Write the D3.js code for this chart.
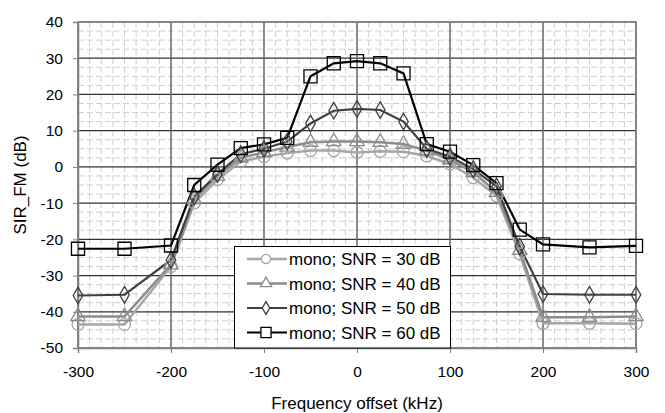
<!DOCTYPE html>
<html><head><meta charset="utf-8">
<script src="https://cdn.jsdelivr.net/npm/d3@7"></script>
<style>body{margin:0;background:#fff}svg{display:block}text{font-family:"Liberation Sans",Arial,sans-serif}</style>
</head><body>
<script>
const freq = [-300,-250,-200,-175,-150,-125,-100,-75,-50,-25,0,25,50,75,100,125,150,175,200,250,300];
const snr30 = [-43.5,-43.5,-27.5,-10,-3.5,1.5,2.8,3.8,4.5,4.5,4,4.3,4.2,3,0.8,-3,-8,-24,-43.2,-43.2,-43.3];
const snr40 = [-41.3,-41.3,-27,-9,-2.5,2.5,4,5.5,6.8,7,7,6.8,6.3,4.5,2,-1.5,-7,-23,-41.5,-41.5,-41.3];
const snr50 = [-35.5,-35.3,-25.7,-8.2,-2,3.5,5,7,12,15.5,16,15.7,12.5,5,2.8,-0.6,-5.4,-22,-35.1,-35.3,-35.3];
const snr60 = [-22.6,-22.6,-21.7,-5,0.6,5.2,6.2,8,25,28.6,29.2,28.6,25.8,6.3,4.2,0.5,-4.5,-17.3,-21.4,-22.2,-21.8];
const seriesNames = ["mono; SNR = 30 dB","mono; SNR = 40 dB","mono; SNR = 50 dB","mono; SNR = 60 dB"];
const xTicks = [-300,-200,-100,0,100,200,300];
const yTicks = [-50,-40,-30,-20,-10,0,10,20,30,40];

const W=665,H=413;
const m={l:78,r:29,t:22,b:65};
const svg=d3.select("body").append("svg").attr("width",W).attr("height",H);
const x=d3.scaleLinear().domain([-300,300]).range([m.l,W-m.r]);
const y=d3.scaleLinear().domain([-50,40]).range([H-m.b,m.t]);
const pw=W-m.r-m.l;
const fmt=d=>String(d);

// minor grid
const g=svg.append("g");
g.selectAll("line.mh").data(d3.range(-50,40.01,2.5).filter(v=>v%10!==0)).join("line")
 .attr("x1",m.l).attr("x2",W-m.r).attr("y1",d=>y(d)).attr("y2",d=>y(d))
 .attr("stroke","#cfcfcf").attr("stroke-width",1).attr("stroke-dasharray","6,3");
g.selectAll("line.mv").data(d3.range(-300,300.01,12.5).filter(v=>v%100!==0)).join("line")
 .attr("y1",m.t).attr("y2",H-m.b).attr("x1",d=>x(d)).attr("x2",d=>x(d))
 .attr("stroke","#cfcfcf").attr("stroke-width",1).attr("stroke-dasharray","6,3");
// major grid
g.selectAll("line.Mh").data(yTicks).join("line")
 .attr("x1",m.l).attr("x2",W-m.r).attr("y1",d=>y(d)).attr("y2",d=>y(d))
 .attr("stroke","#333").attr("stroke-width",1.2);
g.selectAll("line.Mv").data(xTicks).join("line")
 .attr("y1",m.t).attr("y2",H-m.b).attr("x1",d=>x(d)).attr("x2",d=>x(d))
 .attr("stroke","#666").attr("stroke-width",1.5);
svg.append("rect").attr("x",m.l).attr("y",m.t).attr("width",pw).attr("height",H-m.b-m.t)
 .attr("fill","none").attr("stroke","#808080").attr("stroke-width",1.5);

// axes
const xa=svg.append("g").attr("transform",`translate(0,${H-m.b})`)
 .call(d3.axisBottom(x).tickValues(xTicks).tickFormat(fmt).tickSize(5).tickPadding(13));
const ya=svg.append("g").attr("transform",`translate(${m.l},0)`)
 .call(d3.axisLeft(y).tickValues(yTicks).tickFormat(fmt).tickSize(5).tickPadding(10));
[xa,ya].forEach(a=>{a.select(".domain").attr("stroke","#808080").attr("stroke-width",1.5);
 a.selectAll(".tick line").attr("stroke","#808080");
 a.selectAll("text").attr("font-size",15.5).attr("fill","#000").attr("font-family","Liberation Sans, Arial, sans-serif");});

svg.append("text").attr("x",x(0)).attr("y",409).attr("text-anchor","middle").attr("font-size",17).text("Frequency offset (kHz)");
svg.append("text").attr("transform",`translate(26,${(m.t+H-m.b)/2}) rotate(-90)`).attr("text-anchor","middle").attr("font-size",17).text("SIR_FM (dB)");

const series=[snr30,snr40,snr50,snr60];
const colors=["#a6a6a6","#8c8c8c","#404040","#000000"];
const widths=[2.5,2.5,2.2,2.2];
const sym=[d3.symbolCircle,d3.symbolTriangle,d3.symbolDiamond,d3.symbolSquare];
const sizes=[110,90,80,170];
const line=d3.line().x((d,i)=>x(freq[i])).y(d=>y(d));
series.forEach((s,k)=>{
  svg.append("path").datum(s).attr("d",line).attr("fill","none").attr("stroke",colors[k]).attr("stroke-width",widths[k]);
});
series.forEach((s,k)=>{
  svg.append("g").selectAll("path").data(s).join("path")
   .attr("d",d3.symbol().type(sym[k]).size(sizes[k]))
   .attr("transform",(d,i)=>`translate(${x(freq[i])},${y(d)})`)
   .attr("fill","none").attr("stroke",colors[k]).attr("stroke-width",1.3);
});

// legend
const lg=svg.append("g");
lg.append("rect").attr("x",234.5).attr("y",246.5).attr("width",216).attr("height",101.5)
 .attr("fill","#fff").attr("stroke","#000").attr("stroke-width",1);
const ly=[259,283.5,308,332.5];
seriesNames.forEach((n,k)=>{
  lg.append("line").attr("x1",247).attr("x2",287).attr("y1",ly[k]).attr("y2",ly[k]).attr("stroke",colors[k]).attr("stroke-width",widths[k]);
  lg.append("path").attr("d",d3.symbol().type(sym[k]).size(sizes[k]*0.6)).attr("transform",`translate(266,${ly[k]})`)
   .attr("fill","#fff").attr("stroke",colors[k]).attr("stroke-width",1.3);
  lg.append("text").attr("x",289).attr("y",ly[k]+6).attr("font-size",17).text(n);
});
</script>
</body></html>
